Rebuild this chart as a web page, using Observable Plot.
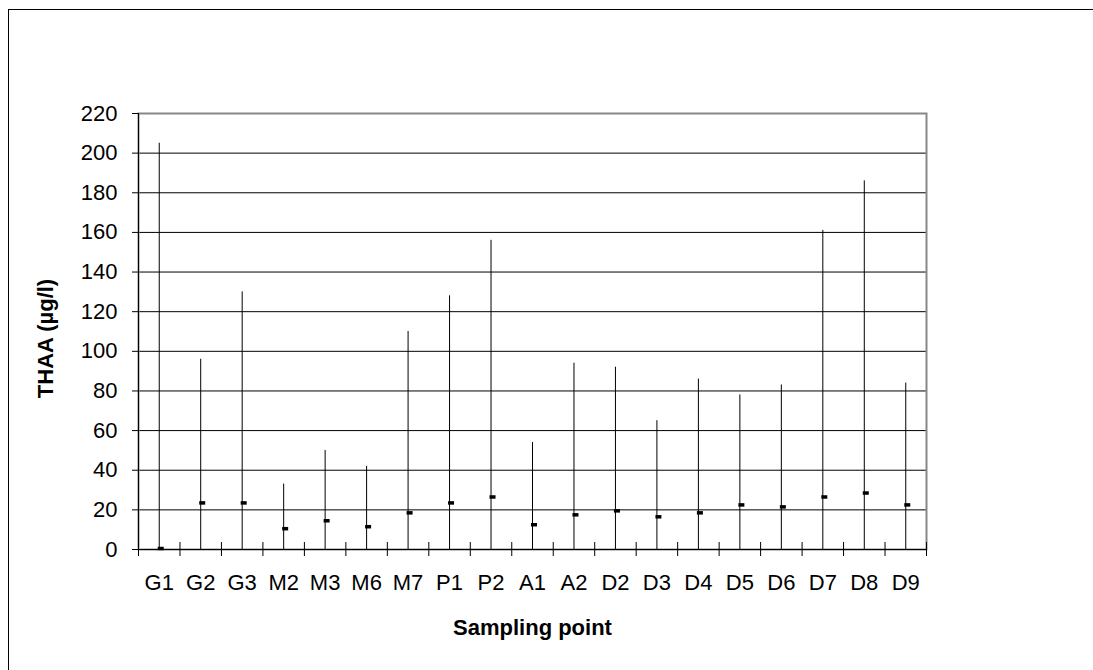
<!DOCTYPE html>
<html><head><meta charset="utf-8">
<script src="https://cdn.jsdelivr.net/npm/d3@7"></script>
<script src="https://cdn.jsdelivr.net/npm/@observablehq/plot@0.6"></script>
<style>
html,body{margin:0;padding:0;background:#fff;overflow:hidden}
#wrap{position:relative;width:1093px;height:670px}
#border{position:absolute;left:8px;top:9px;width:1200px;height:800px;border:1px solid #000;box-sizing:border-box;pointer-events:none}
#chart{position:absolute;left:0;top:0}
</style></head><body>
<div id="wrap"><div id="chart"></div><div id="border"></div></div>
<script>
const categories = ["G1","G2","G3","M2","M3","M6","M7","P1","P2","A1","A2","D2","D3","D4","D5","D6","D7","D8","D9"];
const maxValues  = [205, 96, 130, 33, 50, 42, 110, 128, 156, 54, 94, 92, 65, 86, 78, 83, 161, 186, 84];
const meanValues = [0.5, 23.5, 23.5, 10.5, 14.5, 11.5, 18.5, 23.5, 26.5, 12.5, 17.5, 19.5, 16.5, 18.5, 22.5, 21.5, 26.5, 28.5, 22.5];
const yTicks = [0, 20, 40, 60, 80, 100, 120, 140, 160, 180, 200, 220];
const yTitle = "THAA (µg/l)";
const xTitle = "Sampling point";

const data = categories.map((c, i) => ({cat: c, pos: i + 0.5, max: maxValues[i], mean: meanValues[i]}));
const boundaries = d3.range(categories.length + 1);

const chart = Plot.plot({
  width: 1093, height: 670,
  marginLeft: 138, marginRight: 167, marginTop: 113, marginBottom: 121,
  style: {fontFamily: "'Liberation Sans', Arial, sans-serif", fontSize: "22px", color: "#000", background: "transparent", overflow: "visible"},
  x: {domain: [0, categories.length]},
  y: {domain: [0, 220]},
  marks: [
    Plot.ruleY(yTicks.filter(v => v > 0 && v < 220), {stroke: "#000", strokeWidth: 1}),
    Plot.frame({stroke: "#888", strokeWidth: 2}),
    Plot.ruleX(data, {x: "pos", y1: 0, y2: "max", stroke: "#000", strokeWidth: 1}),
    Plot.ruleY(data, {y: "mean", x1: "pos", x2: "pos", insetLeft: -1, insetRight: -5, stroke: "#000", strokeWidth: 3.5}),
    Plot.ruleX([0], {stroke: "#000"}),
    Plot.ruleY([0], {stroke: "#000"}),
    Plot.ruleX(boundaries, {y1: 0, y2: 0, insetTop: -7, insetBottom: -7, stroke: "#000"}),
    Plot.axisY({ticks: yTicks, tickSize: 6, tickPadding: 15, label: null, stroke: "#000"}),
    Plot.axisX({ticks: data.map(d => d.pos), tickFormat: d => categories[Math.floor(d)], tickSize: 0, tickPadding: 25, label: null}),
    Plot.text([yTitle], {frameAnchor: "left", textAnchor: "middle", dx: -93, dy: 7, rotate: -90, fontWeight: "bold", fontSize: 22}),
    Plot.text([xTitle], {frameAnchor: "bottom", textAnchor: "middle", dy: 85, fontWeight: "bold", fontSize: 22})
  ]
});
document.getElementById("chart").appendChild(chart);
</script>
</body></html>
